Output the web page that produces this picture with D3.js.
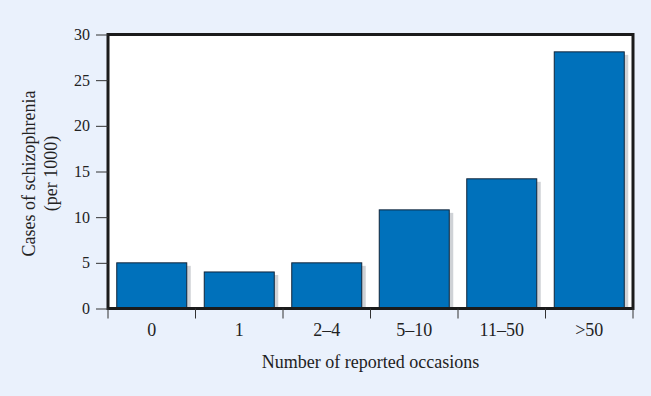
<!DOCTYPE html>
<html>
<head>
<meta charset="utf-8">
<script src="https://cdn.jsdelivr.net/npm/d3@7"></script>
<style>
  body { margin: 0; background: #eaf1fc; }
  svg { display: block; }
  text { font-family: "Liberation Serif", "DejaVu Serif", serif; fill: #222; }
</style>
</head>
<body>
<svg id="chart"></svg>
<script>
const categories = ['0', '1', '2\u20134', '5\u201310', '11\u201350', '>50'];
const cases = [5.0, 4.0, 5.0, 10.8, 14.2, 28.1];
const yTicks = [0, 5, 10, 15, 20, 25, 30];

const width = 651;
const height = 396;
const margin = { top: 34.5, right: 18, bottom: 87.5, left: 108 };

const svg = d3.select('#chart')
  .attr('width', width)
  .attr('height', height);

const x = d3.scaleBand()
  .domain(categories)
  .range([margin.left, width - margin.right])
  .paddingInner(0.2)
  .paddingOuter(0.1);

const y = d3.scaleLinear()
  .domain([0, 30])
  .range([height - margin.bottom, margin.top]);

// plot area
svg.append('rect')
  .attr('x', margin.left)
  .attr('y', margin.top)
  .attr('width', width - margin.right - margin.left)
  .attr('height', y(0) - margin.top)
  .attr('fill', '#fff');

// bar shadows
svg.selectAll('rect.shadow')
  .data(cases)
  .enter()
  .append('rect')
  .attr('class', 'shadow')
  .attr('x', (d, i) => x(categories[i]) + 4)
  .attr('y', d => y(d) + 3)
  .attr('width', x.bandwidth())
  .attr('height', d => y(0) - y(d) - 3)
  .attr('fill', '#cfd2d6');

// bars
svg.selectAll('rect.bar')
  .data(cases)
  .enter()
  .append('rect')
  .attr('class', 'bar')
  .attr('x', (d, i) => x(categories[i]))
  .attr('y', d => y(d))
  .attr('width', x.bandwidth())
  .attr('height', d => y(0) - y(d))
  .attr('fill', '#0071bb')
  .attr('stroke', '#10243a')
  .attr('stroke-width', 1);

// frame
svg.append('rect')
  .attr('x', margin.left)
  .attr('y', margin.top)
  .attr('width', width - margin.right - margin.left)
  .attr('height', y(0) - margin.top)
  .attr('fill', 'none')
  .attr('stroke', '#1b1b1b')
  .attr('stroke-width', 3);

// y axis
const yAxis = svg.append('g')
  .attr('transform', `translate(${margin.left},0)`)
  .call(d3.axisLeft(y).tickValues(yTicks).tickSize(12).tickPadding(6));
yAxis.select('.domain').remove();
yAxis.selectAll('line').attr('stroke', '#333');
yAxis.selectAll('text')
  .style('font-size', '16px')
  .style('font-family', '"Liberation Serif", serif')
  .attr('fill', '#222');

// x axis: ticks on band boundaries
const edges = categories.map(c => x(c) - x.step() * x.paddingInner() / 2);
edges[0] = margin.left;
edges.push(width - margin.right);
svg.selectAll('line.xtick')
  .data(edges)
  .enter()
  .append('line')
  .attr('class', 'xtick')
  .attr('x1', d => d)
  .attr('x2', d => d)
  .attr('y1', y(0))
  .attr('y2', y(0) + 10)
  .attr('stroke', '#333');

svg.selectAll('text.xlabel')
  .data(categories)
  .enter()
  .append('text')
  .attr('class', 'xlabel')
  .attr('x', d => x(d) + x.bandwidth() / 2)
  .attr('y', y(0) + 27)
  .attr('text-anchor', 'middle')
  .style('font-size', '18px')
  .text(d => d);

// axis titles
svg.append('text')
  .attr('x', (margin.left + width - margin.right) / 2)
  .attr('y', 368)
  .attr('text-anchor', 'middle')
  .style('font-size', '18px')
  .text('Number of reported occasions');

const yTitle = svg.append('text')
  .attr('transform', `translate(35,${(margin.top + y(0)) / 2 + 2}) rotate(-90)`)
  .attr('text-anchor', 'middle')
  .style('font-size', '18px');
yTitle.append('tspan').attr('x', 0).attr('dy', 0).text('Cases of schizophrenia');
yTitle.append('tspan').attr('x', 0).attr('dy', 22).text('(per 1000)');
</script>
</body>
</html>
